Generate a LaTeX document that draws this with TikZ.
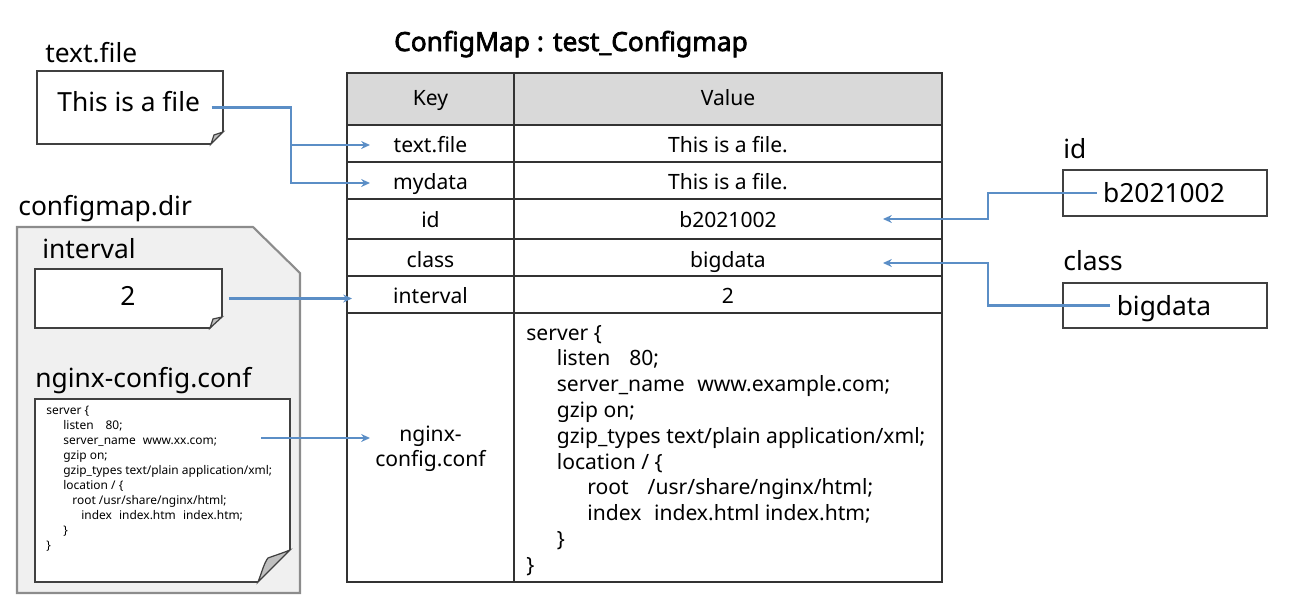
\documentclass[tikz,border=0pt]{standalone}
\usepackage{fontspec}
\setmainfont{Noto Sans}[AutoFakeBold=2.5]
\usetikzlibrary{arrows.meta}
\definecolor{linkblue}{RGB}{91,142,198}
\definecolor{dirgray}{RGB}{240,240,240}
\definecolor{headgray}{RGB}{217,217,217}

\begin{document}
\begin{tikzpicture}[x=0.02cm,y=-0.02cm,
    every node/.style={inner sep=0pt},
    lbl/.style={font=\fontsize{15}{18}\selectfont,anchor=base west},
    cell/.style={font=\fontsize{12}{14.2}\selectfont,anchor=base},
    code/.style={font=\fontsize{12}{14.2}\selectfont,anchor=base west},
    tinycode/.style={font=\fontsize{6.8}{8}\selectfont,anchor=base west},
    note/.style={draw=black!75,line width=1pt,fill=white},
    flap/.style={draw=black!75,line width=0.7pt,fill=black!25},
    grid/.style={draw=black!80,line width=1.1pt},
    link/.style={draw=linkblue,line width=1.2pt,-{Stealth[length=5pt,width=4.5pt]}}]
\useasboundingbox (0,0) rectangle (1292,602);

% title
\node[font=\fontsize{15}{18}\selectfont\bfseries,anchor=base] (title) at (571,51) {ConfigMap : test\_Configmap};

% text.file
\node[lbl] (tfname) at (45,62) {text.file};
\node[note,minimum width=3.72cm,minimum height=1.46cm] (tfbox) at (130,107.5) {};
\fill[white] (224.5,130.5) -- (224.5,145.5) -- (209.5,145.5) -- cycle;
\draw[flap] (223,132) -- (211,144) -- (214,135) -- cycle;
\node[lbl] (tftxt) at (57,111) {This is a file};

% configmap.dir
\node[lbl] (dirname) at (18,215) {configmap.dir};
\draw[draw=black!45,line width=1.2pt,fill=dirgray] (17,227) -- (253,227) -- (300,273) -- (300,593) -- (17,593) -- cycle;

\node[lbl] (ivname) at (42,258) {interval};
\node[note,minimum width=3.74cm,minimum height=1.18cm] (ivbox) at (128.5,298.5) {};
\fill[dirgray] (223.5,315.5) -- (223.5,329.5) -- (209.5,329.5) -- cycle;
\draw[flap] (222,317) -- (210,328) -- (213,319) -- cycle;
\node[lbl,anchor=base] (ivtxt) at (128,305) {2};

\node[lbl] (ngname) at (35,387) {nginx-config.conf};
\node[note,minimum width=5.1cm,minimum height=3.66cm] (ngbox) at (162.5,490.5) {};
\fill[dirgray] (291.5,548.5) -- (291.5,583.5) -- (256.5,583.5) -- cycle;
\draw[flap] (290,550) -- (258,582) .. controls (262,572) and (264,563) .. (268,558) .. controls (276,555) and (283,553) .. cycle;
\foreach \xx/\txt [count=\i] in {46/{server \{},63/{listen\hspace{1em}80;},63/{server\_name\hspace{0.6em}www.xx.com;},63/{gzip on;},63/{gzip\_types text/plain application/xml;},63/{location / \{},72/{root /usr/share/nginx/html;},81/{index\hspace{0.6em}index.htm\hspace{0.6em}index.htm;},63/{\}},46/{\}}}
  \node[tinycode] (ng\i) at (\xx,399+15*\i) {\txt};
\coordinate (ngout) at (261,438);

% table
\fill[headgray] (347,73) rectangle (942,125);
\draw[grid] (347,73) rectangle (942,582);
\foreach \y in {125,162,199,239,276,313}
  \draw[grid] (347,\y) -- (942,\y);
\draw[grid] (514,73) -- (514,582);

\node[cell] (khead) at (430.5,105) {Key};
\node[cell] (vhead) at (728,105) {Value};
\node[cell] (k1) at (430.5,152) {text.file};
\node[cell] (v1) at (728,152) {This is a file.};
\node[cell] (k2) at (430.5,189) {mydata};
\node[cell] (v2) at (728,189) {This is a file.};
\node[cell] (k3) at (430.5,227) {id};
\node[cell] (v3) at (728,227) {b2021002};
\node[cell] (k4) at (430.5,267) {class};
\node[cell] (v4) at (728,267) {bigdata};
\node[cell] (k5) at (430.5,303) {interval};
\node[cell] (v5) at (728,303) {2};
\node[cell,align=center,anchor=center] (k6) at (430.5,449) {nginx-\\config.conf};
\foreach \ind/\txt [count=\i] in {0/{server \{},1/{listen\hspace{0.9em}80;},1/{server\_name\hspace{0.6em}www.example.com;},1/{gzip on;},1/{gzip\_types text/plain application/xml;},1/{location / \{},2/{root\hspace{0.9em}/usr/share/nginx/html;},2/{index\hspace{0.6em}index.html index.htm;},1/{\}},0/{\}}}
  \node[code] (v6l\i) at (526+30.5*\ind,314.2+25.8*\i) {\txt};

% arrow tips in the table
\coordinate (in1) at (370,145);
\coordinate (in2) at (370,183);
\coordinate (in3) at (883,219);
\coordinate (in4) at (883,263);
\coordinate (in5) at (352,0);
\coordinate (in6) at (370,438);
\coordinate (jl) at (291,0);
\coordinate (jr) at (988,0);

% id, class
\node[lbl] (idname) at (1063,158) {id};
\node[draw=black!75,line width=1pt,minimum width=4.08cm,minimum height=0.92cm] (idbox) at (1165,193) {};
\node[font=\fontsize{15}{18}\selectfont,inner xsep=0.12cm] (idval) at (1164,193) {b2021002};
\node[lbl] (clsname) at (1063,270) {class};
\node[draw=black!75,line width=1pt,minimum width=4.08cm,minimum height=0.9cm] (clsbox) at (1165,305.5) {};
\node[font=\fontsize{15}{18}\selectfont,inner xsep=0.12cm,text depth=0pt] (clsval) at (1164,305.5) {bigdata};

% connectors
\draw[link,shorten <=-0.24cm] (tfbox.east) -- (tfbox.east -| jl) |- (in1);
\draw[link,shorten <=-0.24cm] (tfbox.east) -- (tfbox.east -| jl) |- (in2);
\draw[link,shorten <=0.12cm] (ivbox.east) -- (ivbox.east -| in5);
\draw[link] (ngout) -- (in6);
\draw[link] (idval.west) -- (idval.west -| jr) |- (in3);
\draw[link] (clsval.west) -- (clsval.west -| jr) |- (in4);
\end{tikzpicture}
\end{document}
